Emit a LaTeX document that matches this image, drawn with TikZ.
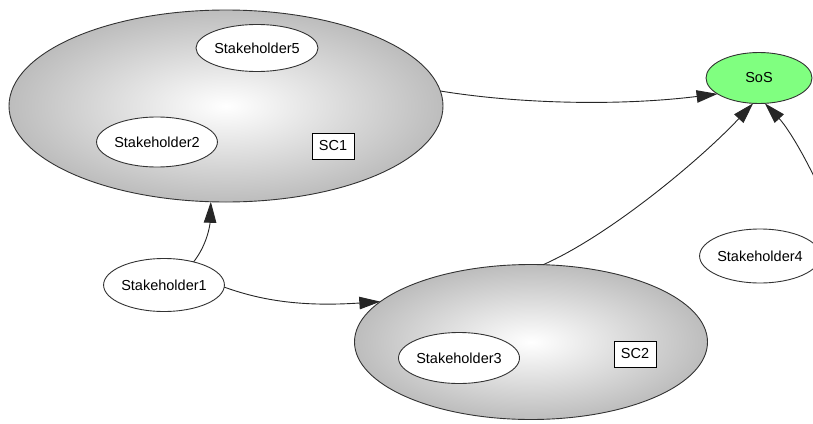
\documentclass[tikz,border=0pt]{standalone}
\usepackage{fontspec}
\setmainfont{Liberation Sans}
\usepackage{xcolor}
\usetikzlibrary{shapes.geometric,arrows.meta}
\definecolor{sosgreen}{RGB}{128,255,128}

\begin{document}
\begin{tikzpicture}[x=1pt, y=-1pt,
    font=\fontsize{14.5pt}{16pt}\selectfont,
    every node/.style={outer sep=0pt},
    cluster/.style={draw=black!80, line width=0.9pt, ellipse, inner sep=0pt, inner color=white, outer color=black!26},
    holder/.style={draw=black!80, line width=0.9pt, ellipse, fill=white, inner sep=0pt, minimum width=120pt, minimum height=50pt},
    tag/.style={draw, line width=0.9pt, rectangle, fill=white, inner sep=0pt, minimum width=42pt, minimum height=26pt},
    link/.style={draw=black!85, line width=0.9pt, -{Triangle[length=21pt,width=12.5pt]}}]
\useasboundingbox (0,0) rectangle (813,423);
\clip (0,0) rectangle (813,423);

% clusters
\node[cluster, minimum width=434pt, minimum height=192pt] (sc1) at (226,106) {};
\node[cluster, minimum width=353pt, minimum height=155pt] (sc2) at (531,342) {};

% stakeholders
\node[holder, minimum width=122pt, minimum height=47pt] (sh5) at (257,48) {Stakeholder5};
\node[holder] (sh2) at (157,142) {Stakeholder2};
\node[tag] (sc1tag) at (333,146) {SC1};
\node[holder, minimum width=118pt, minimum height=53pt] (sh1) at (164,285) {Stakeholder1};
\node[holder, minimum width=121pt, minimum height=51pt] (sh3) at (459,358) {Stakeholder3};
\node[tag] (sc2tag) at (635,354) {SC2};
\node[holder, minimum width=108pt, minimum height=54pt] (sh4) at (760,256) {Stakeholder4};
\node[draw=black!80, line width=0.9pt, ellipse, fill=sosgreen, minimum width=106pt, minimum height=51pt] (sos) at (759,78) {SoS};
\coordinate (offscreen) at (840,240);

% links
\draw[link] (sc1.4) .. controls (520,104) and (620,106) .. (sos.201);
\draw[link] (sc2.81) .. controls (610,235) and (700,160) .. (sos.257);
\draw[link] (offscreen) .. controls (820,180) and (790,130) .. (sos.283);
\draw[link] (sh1.38) .. controls (207,245) and (210,225) .. (sc1.261);
\draw[link] (sh1.358) .. controls (260,300) and (300,307) .. (sc2.165);
\end{tikzpicture}
\end{document}
